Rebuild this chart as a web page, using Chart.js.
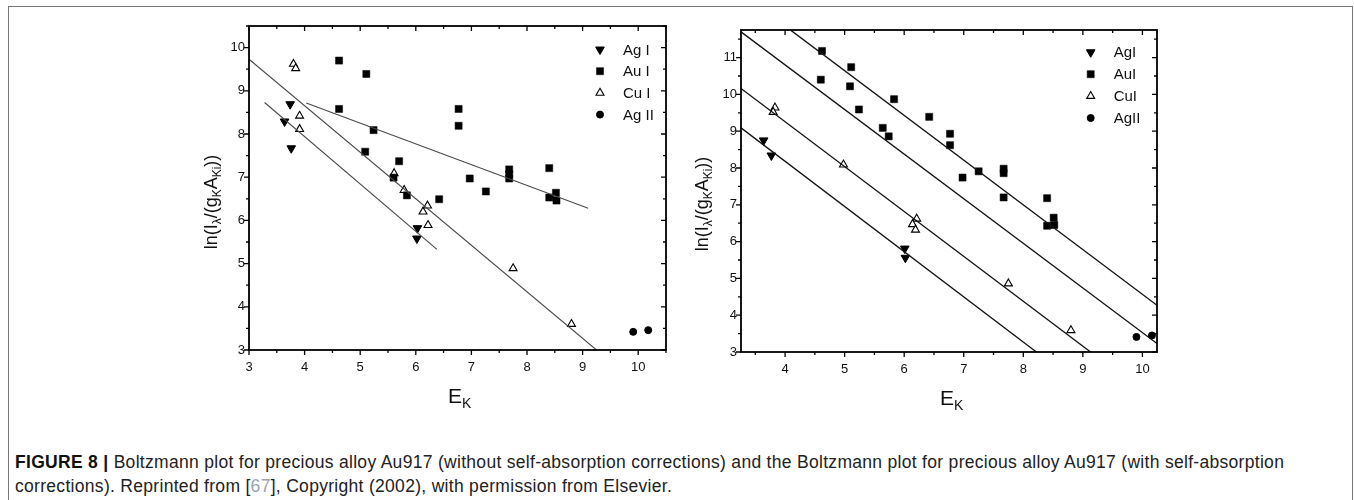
<!DOCTYPE html>
<html>
<head>
<meta charset="utf-8">
<title>Boltzmann plots Au917</title>
<script src="https://cdn.jsdelivr.net/npm/chart.js"></script>
<style>
  body, html { margin: 0; padding: 0; background: #fff; width: 1354px; height: 500px; overflow: hidden; }
  .frame { position: absolute; left: 8px; top: 6px; width: 1345px; height: 500px;
           border: 1.5px solid #777; border-bottom: none; box-sizing: border-box; }
  canvas { position: absolute; }
  #leftChart { left: 160px; top: 10px; }
  #rightChart { left: 650px; top: 10px; }
  .caption { position: absolute; left: 15px; top: 450px; width: 1330px;
             font-family: "Liberation Sans", Arial, sans-serif; font-size: 17.5px; letter-spacing: 0.3px;
             line-height: 24px; color: #222; }
  .caption b { font-weight: bold; color: #111; }
  .caption .ref { color: #9aa5b1; }
</style>
</head>
<body>
<div class="frame"></div>
<canvas id="leftChart" width="520" height="410"></canvas>
<canvas id="rightChart" width="530" height="410"></canvas>
<div class="caption"><b>FIGURE 8 |</b> Boltzmann plot for precious alloy Au917 (without self-absorption corrections) and the Boltzmann plot for precious alloy Au917 (with self-absorption<br>corrections). Reprinted from [<span class="ref">67</span>], Copyright (2002), with permission from Elsevier.</div>

<script>
// ---- left panel: without self-absorption corrections ----
const leftAgI = [[3.64, 8.29], [3.74, 8.69], [3.76, 7.67], [6.03, 5.82], [6.02, 5.58]];
const leftAuI = [[4.62, 9.70], [5.11, 9.39], [4.62, 8.58], [5.24, 8.09], [5.09, 7.59], [5.70, 7.37],
    [5.60, 6.99], [5.84, 6.58], [6.42, 6.49], [6.77, 8.58], [6.77, 8.19], [6.97, 6.97], [7.26, 6.67],
    [7.68, 7.18], [7.68, 7.07], [7.68, 6.97], [8.40, 7.21], [8.40, 6.53], [8.52, 6.64], [8.53, 6.46]];
const leftCuI = [[3.80, 9.62], [3.84, 9.52], [3.91, 8.42], [3.91, 8.11], [5.61, 7.09], [5.79, 6.70],
    [6.13, 6.20], [6.21, 6.34], [6.22, 5.89], [7.75, 4.89], [8.80, 3.60], [8.51, 6.55]];
const leftAgII = [[9.91, 3.42], [10.18, 3.46]];
const leftFits = [
    [[3.00, 9.73], [9.25, 3.00]],
    [[3.28, 8.73], [6.38, 5.33]],
    [[4.03, 8.72], [9.10, 6.28]]
];
const leftXTicks = [3, 4, 5, 6, 7, 8, 9, 10];
const leftYTicks = [3, 4, 5, 6, 7, 8, 9, 10];
const leftLabels = ["Ag I", "Au I", "Cu I", "Ag II"];

// ---- right panel: with self-absorption corrections ----
const rightAgI = [[3.64, 8.75], [3.77, 8.34], [6.01, 5.81], [6.02, 5.56]];
const rightAuI = [[4.62, 11.18], [4.60, 10.40], [5.11, 10.74], [5.09, 10.22], [5.24, 9.59], [5.64, 9.09],
    [5.74, 8.86], [5.83, 9.87], [6.42, 9.39], [6.77, 8.93], [6.77, 8.62], [6.98, 7.74], [7.25, 7.91],
    [7.67, 7.98], [7.67, 7.86], [7.67, 7.20], [8.40, 7.18], [8.40, 6.43], [8.51, 6.65], [8.52, 6.45]];
const rightCuI = [[3.83, 9.64], [3.80, 9.52], [4.98, 8.09], [6.21, 6.62], [6.14, 6.47], [6.19, 6.32],
    [7.75, 4.86], [8.80, 3.59]];
const rightAgII = [[9.90, 3.41], [10.16, 3.45]];
const rightFits = [
    [[4.10, 11.74], [10.245, 4.27]],
    [[3.26, 11.70], [10.245, 3.23]],
    [[3.26, 10.16], [9.13, 3.00]],
    [[3.26, 9.09], [8.22, 3.00]]
];
const rightXTicks = [4, 5, 6, 7, 8, 9, 10];
const rightYTicks = [3, 4, 5, 6, 7, 8, 9, 10, 11];
const rightLabels = ["AgI", "AuI", "CuI", "AgII"];

const FONT = '"Liberation Sans", Arial, sans-serif';
const toXY = arr => arr.map(p => ({ x: p[0], y: p[1] }));

// marker styles, same order as the legend
const markers = [
    { pointStyle: 'triangle', rotation: 180, radius: 5, backgroundColor: '#000', borderColor: '#000', borderWidth: 1 },
    { pointStyle: 'rect', rotation: 0, radius: 5, backgroundColor: '#000', borderColor: '#000', borderWidth: 0.5 },
    { pointStyle: 'triangle', rotation: 0, radius: 4.6, backgroundColor: '#fff', borderColor: '#000', borderWidth: 1.1 },
    { pointStyle: 'circle', rotation: 0, radius: 3.5, backgroundColor: '#000', borderColor: '#000', borderWidth: 1 }
];

function pointSet(label, data, m) {
    return {
        label: label,
        data: toXY(data),
        pointStyle: m.pointStyle,
        rotation: m.rotation,
        pointRadius: m.radius,
        backgroundColor: m.backgroundColor,
        borderColor: m.borderColor,
        borderWidth: m.borderWidth,
        clip: false
    };
}

function lineSet(data, color, width) {
    return {
        label: 'fit',
        data: toXY(data),
        showLine: true,
        pointRadius: 0,
        borderColor: color,
        borderWidth: width,
        fill: false
    };
}

// frame, mirrored ticks, axis titles and legend
const framePlugin = {
    id: 'frame',
    afterDraw(chart, args, opts) {
        const { ctx, chartArea: a } = chart;
        const x = chart.scales.x, y = chart.scales.y;
        ctx.save();
        ctx.strokeStyle = '#000';
        ctx.lineWidth = 1.8;
        ctx.strokeRect(a.left, a.top, a.right - a.left, a.bottom - a.top);

        ctx.lineWidth = 1.3;
        ctx.beginPath();
        for (let v = Math.ceil(x.min * 2) / 2; v <= x.max + 1e-9; v += 0.5) {
            const px = x.getPixelForValue(v);
            const len = Number.isInteger(v) ? 5 : 3;
            ctx.moveTo(px, a.bottom); ctx.lineTo(px, a.bottom + len);
            ctx.moveTo(px, a.top); ctx.lineTo(px, a.top + len);
        }
        for (let v = Math.ceil(y.min * 2) / 2; v <= y.max + 1e-9; v += 0.5) {
            const py = y.getPixelForValue(v);
            const len = Number.isInteger(v) ? 5 : 3;
            ctx.moveTo(a.left - len, py); ctx.lineTo(a.left, py);
            ctx.moveTo(a.right - len, py); ctx.lineTo(a.right, py);
        }
        ctx.stroke();

        ctx.fillStyle = '#111';
        // y title: ln(I_λ/(g_K A_Ki))
        ctx.save();
        ctx.translate(opts.yTitle[0], opts.yTitle[1]);
        ctx.rotate(-Math.PI / 2);
        const parts = [['ln(I', 0], ['λ', 1], ['/(g', 0], ['K', 1], ['A', 0], ['Ki', 1], ['))', 0]];
        let total = 0;
        parts.forEach(p => {
            ctx.font = (p[1] ? '12px ' : '18px ') + FONT;
            total += ctx.measureText(p[0]).width;
        });
        let cx = -total / 2;
        ctx.textBaseline = 'alphabetic';
        parts.forEach(p => {
            ctx.font = (p[1] ? '12px ' : '18px ') + FONT;
            ctx.fillText(p[0], cx, p[1] ? 10 : 6);
            cx += ctx.measureText(p[0]).width;
        });
        ctx.restore();

        // x title: E_K
        ctx.font = '21px ' + FONT;
        ctx.textBaseline = 'alphabetic';
        ctx.fillText('E', opts.xTitle[0], opts.xTitle[1]);
        const ew = ctx.measureText('E').width;
        ctx.font = '14px ' + FONT;
        ctx.fillText('K', opts.xTitle[0] + ew, opts.xTitle[1] + 5);

        // legend
        ctx.font = '15px ' + FONT;
        ctx.textBaseline = 'middle';
        opts.labels.forEach((lab, i) => {
            const m = markers[i];
            const ly = opts.legendY + i * opts.legendStep;
            ctx.fillStyle = m.backgroundColor;
            ctx.strokeStyle = m.borderColor;
            ctx.lineWidth = m.borderWidth;
            Chart.helpers.drawPoint(ctx, { pointStyle: m.pointStyle, rotation: m.rotation, radius: m.radius, borderWidth: m.borderWidth }, opts.legendX, ly);
            ctx.fillStyle = '#111';
            ctx.fillText(lab, opts.legendX + 23, ly + 1);
        });
        ctx.restore();
    }
};

function makeChart(id, sets, fits, lineColor, lineWidth, xr, yr, xTicks, yTicks, pad, yWidth, xHeight, xPad, extra) {
    const datasets = [];
    fits.forEach(f => datasets.push(lineSet(f, lineColor, lineWidth)));
    sets.forEach((s, i) => datasets.push(pointSet(extra.labels[i], s, markers[i])));
    return new Chart(document.getElementById(id).getContext('2d'), {
        type: 'scatter',
        data: { datasets: datasets },
        options: {
            responsive: false,
            animation: false,
            devicePixelRatio: 1,
            layout: { padding: pad },
            plugins: { legend: { display: false }, tooltip: { enabled: false }, frame: extra },
            scales: {
                x: {
                    type: 'linear', min: xr[0], max: xr[1],
                    grid: { display: false, drawTicks: false },
                    border: { display: false },
                    afterBuildTicks: s => { s.ticks = xTicks.map(v => ({ value: v })); },
                    afterFit: s => { s.height = xHeight; },
                    ticks: { color: '#111', padding: xPad, maxRotation: 0, font: { family: FONT, size: 13 } }
                },
                y: {
                    type: 'linear', min: yr[0], max: yr[1],
                    grid: { display: false, drawTicks: false },
                    border: { display: false },
                    afterBuildTicks: s => { s.ticks = yTicks.map(v => ({ value: v })); },
                    afterFit: s => { s.width = yWidth; },
                    ticks: { color: '#111', padding: 4, font: { family: FONT, size: 13 } }
                }
            }
        },
        plugins: [framePlugin]
    });
}

makeChart('leftChart', [leftAgI, leftAuI, leftCuI, leftAgII], leftFits, '#4a4a4a', 1.1,
    [3, 10.5], [3, 10.5], leftXTicks, leftYTicks,
    { left: 0, top: 16, right: 14, bottom: 0 }, 89, 70, 10,
    { labels: leftLabels, legendX: 440, legendY: 39.5, legendStep: 21.7, yTitle: [51, 192], xTitle: [288, 393] });

makeChart('rightChart', [rightAgI, rightAuI, rightCuI, rightAgII], rightFits, '#111', 1.3,
    [3.26, 10.245], [3, 11.75], rightXTicks, rightYTicks,
    { left: 0, top: 20, right: 23, bottom: 0 }, 91, 68, 10,
    { labels: rightLabels, legendX: 440.7, legendY: 42.3, legendStep: 21.9, yTitle: [52, 194], xTitle: [290, 395] });
</script>
</body>
</html>
